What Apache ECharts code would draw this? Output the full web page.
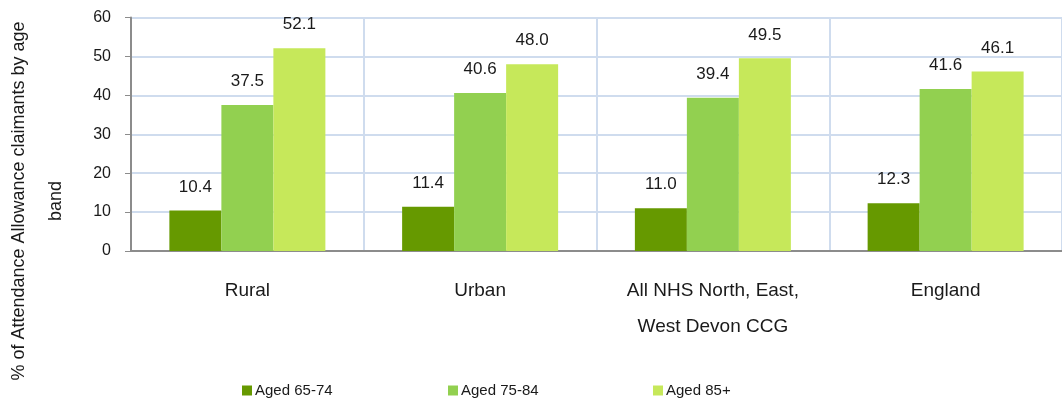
<!DOCTYPE html>
<html>
<head>
<meta charset="utf-8">
<script src="https://cdn.jsdelivr.net/npm/echarts@6/dist/echarts.min.js"></script>
<style>
  html, body { margin: 0; padding: 0; background: #fff; }
  #chart { width: 1062px; height: 406px; }
</style>
</head>
<body>
<div id="chart"></div>
<script>
  // categories + series values
  let categories = ['Rural', 'Urban', 'All NHS North, East,\nWest Devon CCG', 'England'];
  let aged6574 = [10.4, 11.4, 11.0, 12.3];
  let aged7584 = [37.5, 40.6, 39.4, 41.6];
  let aged85 = [52.1, 48.0, 49.5, 46.1];
  let seriesNames = ['Aged 65-74', 'Aged 75-84', 'Aged 85+'];
  let colors = ['#669900', '#92d050', '#c6e85a'];

  let font = 'Liberation Sans, Arial, sans-serif';
  let chart = echarts.init(document.getElementById('chart'));

  let barLabel = {
    show: true,
    position: 'top',
    distance: 15,
    color: '#1a1a1a',
    fontSize: 17,
    fontFamily: font,
    formatter: p => p.value.toFixed(1)
  };

  let legendAt = (name, left) => ({
    data: [name],
    left: left,
    top: 378,
    itemWidth: 10,
    itemHeight: 10,
    icon: 'rect',
    itemGap: 3,
    selectedMode: false,
    textStyle: { fontSize: 15, color: '#1a1a1a', fontFamily: font, padding: [0, 0, 0, -2] }
  });

  let option = {
    animation: false,
    color: colors,
    grid: {
      left: 131,
      right: -1,
      top: 17.5,
      bottom: 155
    },
    legend: [
      legendAt(seriesNames[0], 237),
      legendAt(seriesNames[1], 443),
      legendAt(seriesNames[2], 648)
    ],
    xAxis: [
      {
        type: 'category',
        data: categories,
        axisLine: { lineStyle: { color: '#8c8c8c', width: 2 } },
        axisTick: { show: false },
        axisLabel: {
          margin: 22,
          fontSize: 19,
          lineHeight: 36,
          color: '#1a1a1a',
          fontFamily: font,
          interval: 0
        },
        splitLine: { show: true, lineStyle: { color: '#cfdcee', width: 2 } }
      }
    ],
    yAxis: [
      {
        type: 'value',
        min: 0,
        max: 60,
        interval: 10,
        axisLine: { show: true, lineStyle: { color: '#8c8c8c', width: 2 } },
        axisTick: { show: true, length: 6, lineStyle: { color: '#8c8c8c', width: 1 } },
        axisLabel: { margin: 20, fontSize: 16, color: '#1a1a1a', fontFamily: font },
        splitLine: { lineStyle: { color: '#cfdcee', width: 2 } }
      }
    ],
    series: [
      { name: seriesNames[0], type: 'bar', data: aged6574, barWidth: 52, barGap: '0%', label: barLabel },
      { name: seriesNames[1], type: 'bar', data: aged7584, barWidth: 52, barGap: '0%', label: barLabel },
      { name: seriesNames[2], type: 'bar', data: aged85, barWidth: 52, barGap: '0%', label: barLabel }
    ],
    graphic: [
      {
        type: 'text',
        x: 38,
        y: 201,
        rotation: Math.PI / 2,
        style: {
          text: '% of Attendance Allowance claimants by age\nband',
          fontSize: 18,
          lineHeight: 37,
          fontFamily: font,
          fill: '#1a1a1a',
          align: 'center',
          verticalAlign: 'middle'
        }
      }
    ]
  };
  chart.setOption(option);
</script>
</body>
</html>
